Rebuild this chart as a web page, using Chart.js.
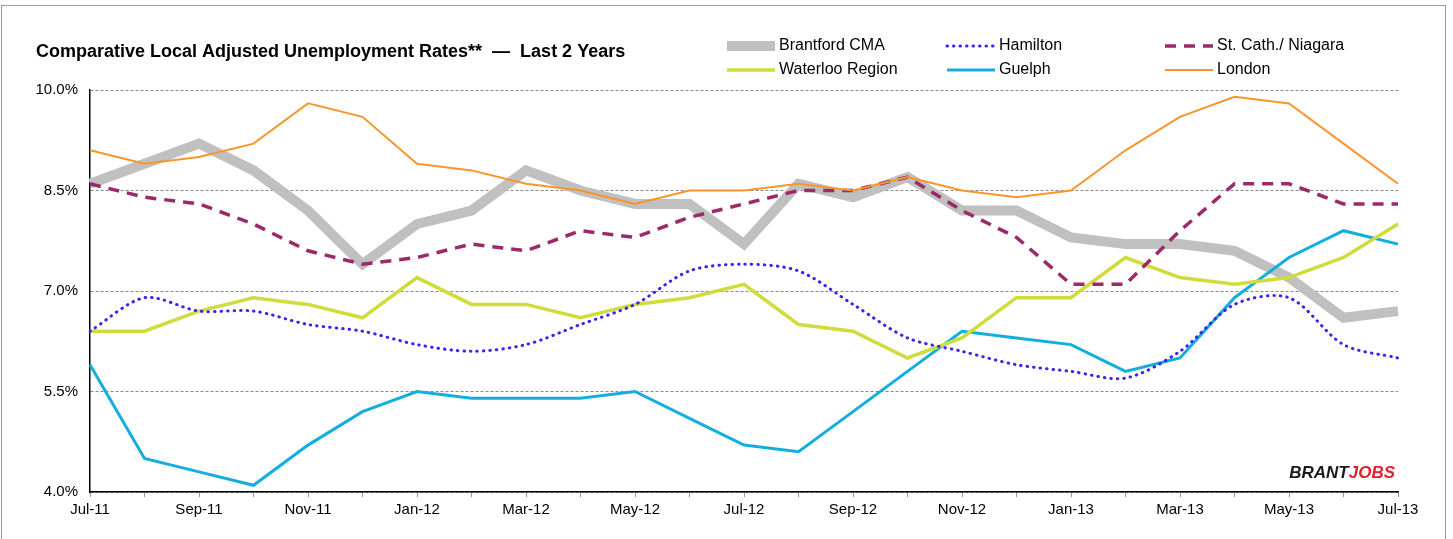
<!DOCTYPE html>
<html>
<head>
<meta charset="utf-8">
<script src="https://cdn.jsdelivr.net/npm/chart.js@4.4.1/dist/chart.umd.min.js"></script>
<style>
  body { margin: 0; background: #fff; }
  #wrap { position: relative; width: 1453px; height: 539px; }
  #frame { position: absolute; left: 1px; top: 5px; width: 1445px; height: 560px; border: 1px solid #9a9a9a; box-sizing: border-box; pointer-events: none; }
</style>
</head>
<body>
<div id="wrap">
  <canvas id="rateChart"></canvas>
  <div id="frame"></div>
</div>
<script>
const months = ['Jul-11', 'Aug-11', 'Sep-11', 'Oct-11', 'Nov-11', 'Dec-11', 'Jan-12', 'Feb-12', 'Mar-12', 'Apr-12', 'May-12', 'Jun-12',
  'Jul-12', 'Aug-12', 'Sep-12', 'Oct-12', 'Nov-12', 'Dec-12', 'Jan-13', 'Feb-13', 'Mar-13', 'Apr-13', 'May-13', 'Jun-13', 'Jul-13'];

const brantford = [8.6, 8.9, 9.2, 8.8, 8.2, 7.4, 8.0, 8.2, 8.8, 8.5, 8.3, 8.3, 7.7, 8.6, 8.4, 8.7, 8.2, 8.2, 7.8, 7.7, 7.7, 7.6, 7.2, 6.6, 6.7];
const hamilton = [6.4, 6.9, 6.7, 6.7, 6.5, 6.4, 6.2, 6.1, 6.2, 6.5, 6.8, 7.3, 7.4, 7.3, 6.8, 6.3, 6.1, 5.9, 5.8, 5.7, 6.1, 6.8, 6.9, 6.2, 6.0];
const niagara = [8.6, 8.4, 8.3, 8.0, 7.6, 7.4, 7.5, 7.7, 7.6, 7.9, 7.8, 8.1, 8.3, 8.5, 8.5, 8.7, 8.2, 7.8, 7.1, 7.1, 7.9, 8.6, 8.6, 8.3, 8.3];
const waterloo = [6.4, 6.4, 6.7, 6.9, 6.8, 6.6, 7.2, 6.8, 6.8, 6.6, 6.8, 6.9, 7.1, 6.5, 6.4, 6.0, 6.3, 6.9, 6.9, 7.5, 7.2, 7.1, 7.2, 7.5, 8.0];
const guelph = [5.9, 4.5, 4.3, 4.1, 4.7, 5.2, 5.5, 5.4, 5.4, 5.4, 5.5, 5.1, 4.7, 4.6, 5.2, 5.8, 6.4, 6.3, 6.2, 5.8, 6.0, 6.9, 7.5, 7.9, 7.7];
const london = [9.1, 8.9, 9.0, 9.2, 9.8, 9.6, 8.9, 8.8, 8.6, 8.5, 8.3, 8.5, 8.5, 8.6, 8.5, 8.7, 8.5, 8.4, 8.5, 9.1, 9.6, 9.9, 9.8, 9.2, 8.6];

const yTicks = [4.0, 5.5, 7.0, 8.5, 10.0];

const FONT = '"Liberation Sans", Arial, sans-serif';

// title, legend and logo drawn by hand
const decorations = {
  id: 'decorations',
  afterDraw(chart) {
    const ctx = chart.ctx;
    ctx.save();
    ctx.fillStyle = '#000';
    ctx.font = 'bold 18px ' + FONT;
    ctx.textBaseline = 'middle';
    ctx.textAlign = 'left';
    ctx.fillText('Comparative Local Adjusted Unemployment Rates**  \u2014  Last 2 Years', 36, 52);

    const cols = [725, 945, 1163];
    const rows = [46, 70];
    chart.data.datasets.forEach((ds, i) => {
      const x = cols[i % 3];
      const y = rows[Math.floor(i / 3)];
      ctx.save();
      ctx.strokeStyle = ds.borderColor;
      ctx.lineWidth = ds.borderWidth;
      ctx.lineCap = ds.borderCapStyle || 'butt';
      ctx.setLineDash(ds.borderDash || []);
      ctx.beginPath();
      ctx.moveTo(x + 2, y);
      ctx.lineTo(x + 50, y);
      ctx.stroke();
      ctx.restore();
      ctx.font = '16px ' + FONT;
      ctx.fillStyle = '#000';
      ctx.fillText(ds.label, x + 54, y);
    });

    ctx.font = 'italic bold 17px ' + FONT;
    ctx.textAlign = 'right';
    ctx.fillStyle = '#e5202e';
    ctx.fillText('JOBS', 1395, 473);
    const w = ctx.measureText('JOBS').width;
    ctx.fillStyle = '#1a1a1a';
    ctx.fillText('BRANT', 1395 - w, 473);
    ctx.restore();
  }
};

new Chart(document.getElementById('rateChart'), {
  type: 'line',
  data: {
    labels: months,
    datasets: [
      { label: 'Brantford CMA', data: brantford, borderColor: '#c0c0c0', borderWidth: 10, order: 6, borderJoinStyle: 'miter' },
      { label: 'Hamilton', data: hamilton, borderColor: '#3d22f0', borderWidth: 3, borderDash: [0.5, 6], borderCapStyle: 'round', tension: 0.3, order: 2 },
      { label: 'St. Cath./ Niagara', data: niagara, borderColor: '#9c2a68', borderWidth: 3.5, borderDash: [11, 8], order: 3 },
      { label: 'Waterloo Region', data: waterloo, borderColor: '#cfdc3c', borderWidth: 3.5, order: 4 },
      { label: 'Guelph', data: guelph, borderColor: '#14aedd', borderWidth: 3, order: 5 },
      { label: 'London', data: london, borderColor: '#f7962c', borderWidth: 2, order: 1 }
    ]
  },
  options: {
    responsive: true,
    maintainAspectRatio: false,
    animation: false,
    elements: { point: { radius: 0 }, line: { tension: 0 } },
    layout: { padding: { top: 90, right: 55, left: 0, bottom: 0 } },
    plugins: {
      legend: { display: false },
      tooltip: { enabled: false }
    },
    scales: {
      x: {
        afterFit(scale) { scale.height = 47; },
        border: { color: '#000', width: 1.5 },
        grid: { drawOnChartArea: false, drawTicks: true, tickLength: 5, color: '#999' },
        ticks: {
          autoSkip: false,
          maxRotation: 0,
          color: '#000',
          font: { family: FONT, size: 15 },
          padding: 4,
          callback(v, i) { return i % 2 === 0 ? months[i] : ''; }
        }
      },
      y: {
        min: 4,
        max: 10,
        afterFit(scale) { scale.width = 90; },
        afterBuildTicks(scale) { scale.ticks = yTicks.map(v => ({ value: v })); },
        border: { color: '#000', width: 1.5, dash: [3, 2] },
        grid: { color: '#888', lineWidth: 1, drawTicks: false },
        ticks: {
          color: '#000',
          font: { family: FONT, size: 15 },
          padding: 12,
          callback(v) { return v.toFixed(1) + '%'; }
        }
      }
    }
  },
  plugins: [decorations]
});
</script>
</body>
</html>
